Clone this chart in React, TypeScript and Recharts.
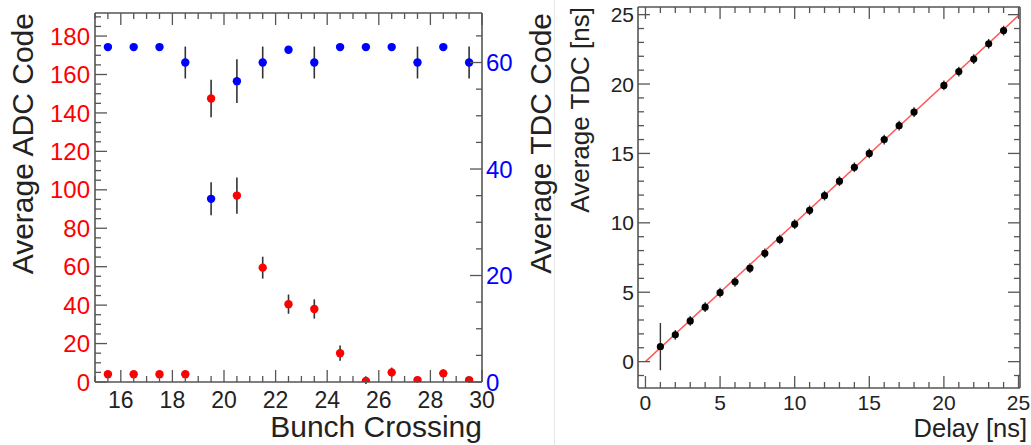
import { ErrorBar, Scatter, ScatterChart, XAxis, YAxis } from "recharts";

// left panel: ADC / TDC code vs bunch crossing
const bunchCrossing = [15.5, 16.5, 17.5, 18.5, 19.5, 20.5, 21.5, 22.5, 23.5, 24.5, 25.5, 26.5, 27.5, 28.5, 29.5];
const adcCode = [4, 4, 4, 4, 147.5, 97, 59.5, 40.5, 38, 15, 0.5, 5, 1, 4.5, 1];
const adcErr = [1.5, 1.5, 1.5, 1.5, 9.8, 9.4, 5.7, 5, 5, 4, 1.5, 2.5, 1.5, 2, 1.5];
const tdcCode = [62.9, 62.9, 62.9, 60, 34.4, 56.5, 60, 62.4, 60, 62.9, 62.9, 62.9, 60, 62.9, 60];
const tdcErr = [0, 0, 0, 3, 3.1, 4.1, 3, 0, 3, 0, 0, 0, 3, 0, 3];

const bxMajor = [16, 18, 20, 22, 24, 26, 28, 30];
const adcMajor = [0, 20, 40, 60, 80, 100, 120, 140, 160, 180];
const tdcMajor = [0, 20, 40, 60];

// right panel: average TDC vs delay
const delayNs = [1, 2, 3, 4, 5, 6, 7, 8, 9, 10, 11, 12, 13, 14, 15, 16, 17, 18, 20, 21, 22, 23, 24];
const avgTdcNs = [1.08, 1.93, 2.93, 3.92, 4.97, 5.75, 6.73, 7.8, 8.8, 9.9, 10.9, 11.96, 13.0, 14.0, 15.0, 16.0, 17.0, 17.98, 19.9, 20.9, 21.8, 22.9, 23.85];
const avgTdcErr = [1.7, 0.35, 0.35, 0.35, 0.35, 0.35, 0.35, 0.35, 0.35, 0.35, 0.35, 0.35, 0.35, 0.35, 0.35, 0.35, 0.35, 0.35, 0.35, 0.35, 0.35, 0.35, 0.35];
const fitDelay = [0, 25.1];
const fitTdc = [0, 25.03];

const delayMajor = [0, 5, 10, 15, 20, 25];
const nsMajor = [0, 5, 10, 15, 20, 25];

const FONT = "'Liberation Sans', Arial, Helvetica, sans-serif";
const FRAME = "#555";

function range(from: number, to: number, step: number) {
  const out: number[] = [];
  for (let v = from; v <= to + 1e-9; v += step) out.push(Math.round(v * 1000) / 1000);
  return out;
}

type Side = "bottom" | "top" | "left" | "right";

function makeTick(side: Side, majors: number[], opts: { color?: string; size?: number; gap?: number; labels?: boolean } = {}) {
  const { color = "#222", size = 22, gap = 5, labels = true } = opts;
  return (props: any) => {
    const { x, y, payload } = props;
    const v = payload.value;
    const isMajor = majors.some((m) => Math.abs(m - v) < 1e-6);
    const len = isMajor ? 12 : 6;
    let line;
    let label = null;
    if (side === "bottom") {
      line = <line x1={x} x2={x} y1={y} y2={y - len} />;
      if (isMajor && labels)
        label = (
          <text x={x} y={y + gap} textAnchor="middle" fill={color} fontSize={size} fontFamily={FONT}>
            {v}
          </text>
        );
    } else if (side === "top") {
      line = <line x1={x} x2={x} y1={y} y2={y + len} />;
    } else if (side === "left") {
      line = <line x1={x} x2={x + len} y1={y} y2={y} />;
      if (isMajor && labels)
        label = (
          <text x={x - gap} y={y} dy="0.36em" textAnchor="end" fill={color} fontSize={size} fontFamily={FONT}>
            {v}
          </text>
        );
    } else {
      line = <line x1={x} x2={x - len} y1={y} y2={y} />;
      if (isMajor && labels)
        label = (
          <text x={x + gap} y={y} dy="0.36em" textAnchor="start" fill={color} fontSize={size} fontFamily={FONT}>
            {v}
          </text>
        );
    }
    return (
      <g>
        <g stroke={FRAME} strokeWidth={1.3}>{line}</g>
        {label}
      </g>
    );
  };
}

const dot = (fill: string, r: number) => (p: any) => <circle cx={p.cx} cy={p.cy} r={r} fill={fill} />;

const axisLine = { stroke: FRAME, strokeWidth: 1.6 };

function BunchCrossingPanel() {
  const red = bunchCrossing.map((x, i) => ({ x, y: adcCode[i], err: adcErr[i] }));
  const blue = bunchCrossing.map((x, i) => ({ x, y: tdcCode[i], err: tdcErr[i] }));
  const xTicks = range(15, 30, 0.5);
  return (
    <ScatterChart width={560} height={445} margin={{ top: 12, right: 18, bottom: 23, left: 35 }}>
      <XAxis
        xAxisId="b"
        dataKey="x"
        type="number"
        domain={[15, 30]}
        allowDataOverflow
        ticks={xTicks}
        interval={0}
        height={40}
        tickSize={0}
        tickMargin={0}
        axisLine={axisLine}
        tick={makeTick("bottom", bxMajor, { size: 23, gap: 26 })}
      />
      <XAxis
        xAxisId="t"
        orientation="top"
        dataKey="x"
        type="number"
        domain={[15, 30]}
        allowDataOverflow
        ticks={xTicks}
        interval={0}
        height={1}
        tickSize={0}
        tickMargin={0}
        axisLine={axisLine}
        tick={makeTick("top", bxMajor)}
      />
      <YAxis
        yAxisId="adc"
        dataKey="y"
        type="number"
        domain={[0, 192]}
        allowDataOverflow
        ticks={range(0, 190, 5)}
        interval={0}
        width={60}
        tickSize={0}
        tickMargin={0}
        axisLine={axisLine}
        tick={makeTick("left", adcMajor, { color: "#ff0000", size: 24, gap: 5 })}
      />
      <YAxis
        yAxisId="tdc"
        orientation="right"
        dataKey="y"
        type="number"
        domain={[0, 69.3]}
        allowDataOverflow
        ticks={range(0, 65, 5)}
        interval={0}
        width={60}
        tickSize={0}
        tickMargin={0}
        axisLine={axisLine}
        tick={makeTick("right", tdcMajor, { color: "#0000ff", size: 24, gap: 4 })}
      />
      <Scatter data={blue} xAxisId="b" yAxisId="tdc" shape={dot("#0000ff", 4.2)} isAnimationActive={false}>
        <ErrorBar dataKey="err" direction="y" width={0} stroke="#333" strokeWidth={1.6} />
      </Scatter>
      <Scatter data={red} xAxisId="b" yAxisId="adc" shape={dot("#ff0000", 4.2)} isAnimationActive={false}>
        <ErrorBar dataKey="err" direction="y" width={0} stroke="#333" strokeWidth={1.6} />
      </Scatter>
    </ScatterChart>
  );
}

function DelayPanel() {
  const pts = delayNs.map((x, i) => ({ x, y: avgTdcNs[i], err: avgTdcErr[i] }));
  const fit = fitDelay.map((x, i) => ({ x, y: fitTdc[i] }));
  const xTicks = range(0, 25, 1);
  const yTicks = range(-1, 25, 1);
  return (
    <ScatterChart width={471} height={445} margin={{ top: 6, right: 1, bottom: 27, left: 28 }}>
      <XAxis
        xAxisId="b"
        dataKey="x"
        type="number"
        domain={[-0.5, 25.1]}
        allowDataOverflow
        ticks={xTicks}
        interval={0}
        height={30}
        tickSize={0}
        tickMargin={0}
        axisLine={axisLine}
        tick={makeTick("bottom", delayMajor, { size: 21, gap: 21.5 })}
      />
      <XAxis
        xAxisId="t"
        orientation="top"
        dataKey="x"
        type="number"
        domain={[-0.5, 25.1]}
        allowDataOverflow
        ticks={xTicks}
        interval={0}
        height={1}
        tickSize={0}
        tickMargin={0}
        axisLine={axisLine}
        tick={makeTick("top", delayMajor)}
      />
      <YAxis
        yAxisId="l"
        dataKey="y"
        type="number"
        domain={[-1.9, 25.55]}
        allowDataOverflow
        ticks={yTicks}
        interval={0}
        width={50}
        tickSize={0}
        tickMargin={0}
        axisLine={axisLine}
        tick={makeTick("left", nsMajor, { size: 21, gap: 4 })}
      />
      <YAxis
        yAxisId="r"
        orientation="right"
        dataKey="y"
        type="number"
        domain={[-1.9, 25.55]}
        allowDataOverflow
        ticks={yTicks}
        interval={0}
        width={10}
        tickSize={0}
        tickMargin={0}
        axisLine={axisLine}
        tick={makeTick("right", nsMajor, { labels: false })}
      />
      <Scatter
        data={fit}
        xAxisId="b"
        yAxisId="l"
        line={{ stroke: "#ff5555", strokeWidth: 1.4 }}
        shape={() => <g />}
        isAnimationActive={false}
      />
      <Scatter data={pts} xAxisId="b" yAxisId="l" shape={dot("#000", 3.6)} isAnimationActive={false}>
        <ErrorBar dataKey="err" direction="y" width={0} stroke="#333" strokeWidth={1.4} />
      </Scatter>
    </ScatterChart>
  );
}

export default function App() {
  return (
    <div style={{ position: "fixed", left: 0, top: 0, width: 1031, height: 445, background: "#fff", overflow: "hidden" }}>
      <div style={{ position: "absolute", left: 0, top: 0 }}>
        <BunchCrossingPanel />
      </div>
      <div style={{ position: "absolute", left: 560, top: 0 }}>
        <DelayPanel />
      </div>
      <svg width={1031} height={445} style={{ position: "absolute", left: 0, top: 0, pointerEvents: "none" }} fontFamily={FONT} fill="#222">
        <line x1={554.5} x2={554.5} y1={0} y2={445} stroke="#e6e6e6" strokeWidth={1} />
        <text transform="translate(33,13) rotate(-90)" textAnchor="end" fontSize={30}>
          Average ADC Code
        </text>
        <text transform="translate(551,13) rotate(-90)" textAnchor="end" fontSize={30}>
          Average TDC Code
        </text>
        <text x={482} y={437} textAnchor="end" fontSize={30}>
          Bunch Crossing
        </text>
        <text transform="translate(589,7) rotate(-90)" textAnchor="end" fontSize={26}>
          Average TDC [ns]
        </text>
        <text x={1027} y={437} textAnchor="end" fontSize={25.5}>
          Delay [ns]
        </text>
      </svg>
    </div>
  );
}
